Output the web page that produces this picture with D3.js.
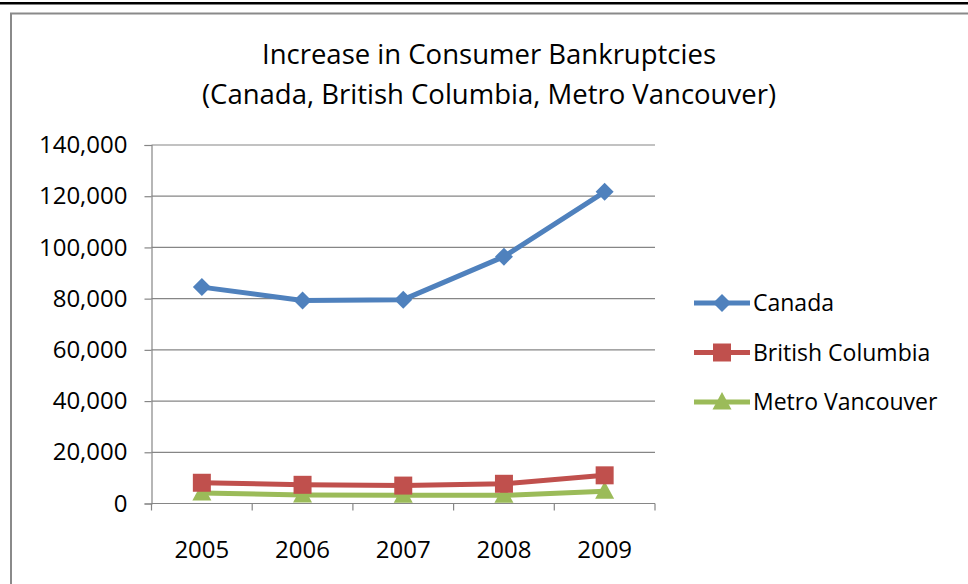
<!DOCTYPE html>
<html>
<head>
<meta charset="utf-8">
<script src="https://cdn.jsdelivr.net/npm/d3@7"></script>
<style>
  html, body { margin: 0; padding: 0; background: #fff; }
  svg { display: block; }
  text { font-family: "Open Sans", "Noto Sans", sans-serif; fill: #000; }
</style>
</head>
<body>
<svg id="chart" width="968" height="584"></svg>
<script>
// Consumer bankruptcies by year
const years = ["2005", "2006", "2007", "2008", "2009"];
const canada = [84500, 79300, 79600, 96400, 121700];
const britishColumbia = [8100, 7300, 7000, 7700, 11000];
const metroVancouver = [4100, 3300, 3200, 3200, 4800];
const yTicks = [0, 20000, 40000, 60000, 80000, 100000, 120000, 140000];
const seriesNames = ["Canada", "British Columbia", "Metro Vancouver"];
const titleLines = ["Increase in Consumer Bankruptcies", "(Canada, British Columbia, Metro Vancouver)"];

// marker shapes
const diamond = "M0,-9L9,0L0,9L-9,0Z";
const square = "M-9,-9H9V9H-9Z";
const triangle = "M0,-10L9.5,7.5H-9.5Z";

const series = [
  { name: seriesNames[0], values: canada, color: "#4F81BD", marker: diamond },
  { name: seriesNames[1], values: britishColumbia, color: "#C0504D", marker: square },
  { name: seriesNames[2], values: metroVancouver, color: "#9BBB59", marker: triangle }
];

const svg = d3.select("#chart");

// page rule above the chart frame
svg.append("rect").attr("x", 0).attr("y", 2).attr("width", 968).attr("height", 2.5).attr("fill", "#000");

// chart frame (left and top edges visible)
svg.append("path")
  .attr("d", "M11,584 L11,13.5 L968,13.5")
  .attr("fill", "none").attr("stroke", "#8a8a8a").attr("stroke-width", 2);

// title
svg.append("g").selectAll("text").data(titleLines).join("text")
  .attr("x", 489).attr("y", (d, i) => 64 + i * 40)
  .attr("text-anchor", "middle")
  .attr("font-size", 27.5)
  .text(d => d);

const plot = { left: 151.5, right: 655, top: 145, bottom: 503.5 };

const x = d3.scaleBand().domain(years).range([plot.left, plot.right]);
const y = d3.scaleLinear().domain([0, 140000]).range([plot.bottom, plot.top]);

// gridlines
svg.append("g").selectAll("line").data(yTicks.filter(t => t > 0)).join("line")
  .attr("x1", plot.left).attr("x2", plot.right)
  .attr("y1", d => y(d)).attr("y2", d => y(d))
  .attr("stroke", "#868686").attr("stroke-width", 1.2);

// y axis
const yAxis = svg.append("g")
  .attr("transform", `translate(${plot.left},0)`)
  .call(d3.axisLeft(y).tickValues(yTicks).tickSize(7).tickPadding(17).tickFormat(d3.format(",")));
yAxis.select(".domain").attr("stroke", "#868686").attr("stroke-width", 1.2);
yAxis.selectAll(".tick line").attr("stroke", "#868686").attr("stroke-width", 1.2);
yAxis.selectAll("text").attr("font-size", 24).attr("font-family", "\"Open Sans\", sans-serif").attr("fill", "#000");

// x axis with ticks at category boundaries
const xAxis = svg.append("g").attr("transform", `translate(0,${plot.bottom})`);
xAxis.append("line").attr("x1", plot.left).attr("x2", plot.right)
  .attr("stroke", "#868686").attr("stroke-width", 1.2);
const bounds = years.map(d => x(d)).concat([x(years[years.length - 1]) + x.bandwidth()]);
xAxis.selectAll("line.tk").data(bounds).join("line").attr("class", "tk")
  .attr("x1", d => d).attr("x2", d => d).attr("y1", 0).attr("y2", 7)
  .attr("stroke", "#868686").attr("stroke-width", 1.2);
xAxis.selectAll("text").data(years).join("text")
  .attr("x", d => x(d) + x.bandwidth() / 2).attr("y", 54)
  .attr("text-anchor", "middle").attr("font-size", 24)
  .text(d => d);

const cx = d => x(d) + x.bandwidth() / 2;
const line = d3.line().x((v, i) => cx(years[i])).y(v => y(v));

// series lines, drawn back to front
[...series].reverse().forEach(s => {
  const g = svg.append("g");
  g.append("path").datum(s.values)
    .attr("d", line).attr("fill", "none")
    .attr("stroke", s.color).attr("stroke-width", 5).attr("stroke-linejoin", "round");
  g.selectAll("path.m").data(s.values).join("path").attr("class", "m")
    .attr("transform", (v, i) => `translate(${cx(years[i])},${y(v)})`)
    .attr("d", s.marker)
    .attr("fill", s.color);
});

// legend
const legend = svg.append("g");
series.forEach((s, i) => {
  const ly = 303 + i * 49.5;
  legend.append("line").attr("x1", 694).attr("x2", 750).attr("y1", ly).attr("y2", ly)
    .attr("stroke", s.color).attr("stroke-width", 5);
  legend.append("path")
    .attr("transform", `translate(722,${ly})`)
    .attr("d", s.marker)
    .attr("fill", s.color);
  legend.append("text").attr("x", 753).attr("y", ly + 8)
    .attr("font-size", 23).text(s.name);
});
</script>
</body>
</html>
